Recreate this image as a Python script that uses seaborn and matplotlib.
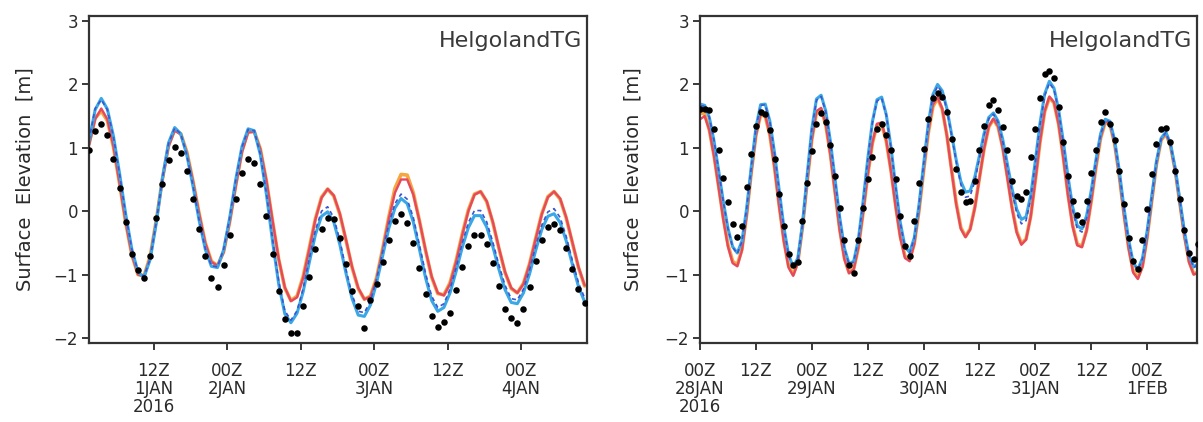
import numpy as np
import pandas as pd
import matplotlib
matplotlib.use("Agg")
import matplotlib.pyplot as plt
import seaborn as sns

# ---------------- data ----------------
station = "HelgolandTG"
ylabel = "Surface  Elevation  [m]"

# Left panel: hours after 2016-01-01 00Z, hourly samples
left_start = 1.4
left_xlim = (1.4, 82.8)
left_ticks = [12, 24, 36, 48, 60, 72]
left_ticklabels = ["12Z\n1JAN\n2016", "00Z\n2JAN", "12Z", "00Z\n3JAN", "12Z", "00Z\n4JAN"]

left_obs = [0.96, 1.27, 1.37, 1.20, 0.83, 0.37, -0.17, -0.67, -0.93, -1.05,
            -0.71, -0.10, 0.43, 0.80, 1.01, 0.92, 0.64, 0.19, -0.28, -0.70,
            -1.05, -1.19, -0.85, -0.38, 0.19, 0.60, 0.83, 0.76, 0.43, -0.08,
            -0.68, -1.26, -1.70, -1.93, -1.93, -1.50, -1.04, -0.60, -0.28, -0.10,
            -0.13, -0.43, -0.84, -1.26, -1.50, -1.85, -1.40, -1.15, -0.80, -0.45,
            -0.16, -0.05, -0.18, -0.50, -0.90, -1.30, -1.65, -1.82, -1.75, -1.60,
            -1.25, -0.88, -0.55, -0.38, -0.38, -0.52, -0.82, -1.18, -1.55, -1.69,
            -1.77, -1.55, -1.20, -0.78, -0.45, -0.25, -0.21, -0.30, -0.58, -0.92,
            -1.22, -1.45]

left_orange = [1.06, 1.47, 1.58, 1.43, 1.01, 0.43, -0.18, -0.69, -1.00, -1.02,
               -0.71, -0.14, 0.51, 1.04, 1.29, 1.22, 0.93, 0.47, -0.04, -0.50,
               -0.79, -0.86, -0.64, -0.16, 0.42, 0.95, 1.26, 1.26, 0.98, 0.47,
               -0.16, -0.76, -1.21, -1.41, -1.34, -1.03, -0.58, -0.12, 0.22, 0.35,
               0.24, -0.05, -0.46, -0.89, -1.22, -1.39, -1.34, -1.05, -0.59, -0.09,
               0.36, 0.58, 0.57, 0.29, -0.15, -0.62, -1.04, -1.30, -1.32, -1.13,
               -0.78, -0.36, 0.02, 0.27, 0.31, 0.15, -0.18, -0.59, -0.97, -1.22,
               -1.29, -1.14, -0.83, -0.43, -0.04, 0.23, 0.31, 0.19, -0.11, -0.50,
               -0.89, -1.18]

left_red = [1.04, 1.45, 1.62, 1.45, 1.02, 0.43, -0.18, -0.69, -1.00, -1.03,
            -0.72, -0.15, 0.49, 1.02, 1.27, 1.21, 0.92, 0.47, -0.04, -0.50,
            -0.80, -0.86, -0.65, -0.17, 0.40, 0.93, 1.24, 1.25, 0.98, 0.48,
            -0.15, -0.75, -1.20, -1.42, -1.36, -1.05, -0.60, -0.13, 0.21, 0.35,
            0.25, -0.04, -0.45, -0.88, -1.21, -1.39, -1.35, -1.07, -0.61, -0.12,
            0.29, 0.50, 0.50, 0.26, -0.15, -0.61, -1.03, -1.29, -1.33, -1.15,
            -0.80, -0.38, 0.00, 0.26, 0.31, 0.16, -0.17, -0.58, -0.96, -1.21,
            -1.29, -1.15, -0.84, -0.44, -0.05, 0.22, 0.31, 0.20, -0.10, -0.49,
            -0.88, -1.17]

left_cyan = [1.10, 1.60, 1.78, 1.61, 1.18, 0.59, -0.05, -0.60, -0.96, -1.04,
             -0.76, -0.18, 0.52, 1.08, 1.32, 1.22, 0.88, 0.39, -0.15, -0.60,
             -0.87, -0.89, -0.61, -0.10, 0.51, 1.02, 1.30, 1.27, 0.89, 0.26,
             -0.48, -1.15, -1.62, -1.76, -1.61, -1.27, -0.81, -0.37, -0.08, -0.01,
             -0.17, -0.53, -0.98, -1.38, -1.64, -1.66, -1.48, -1.13, -0.70, -0.27,
             0.05, 0.20, 0.12, -0.17, -0.60, -1.05, -1.41, -1.58, -1.52, -1.29,
             -0.95, -0.57, -0.26, -0.07, -0.07, -0.25, -0.56, -0.92, -1.24, -1.44,
             -1.46, -1.29, -0.99, -0.62, -0.29, -0.08, -0.04, -0.18, -0.47, -0.84,
             -1.19, -1.43]

left_blue = [1.12, 1.62, 1.76, 1.60, 1.17, 0.58, -0.06, -0.60, -0.95, -1.03,
             -0.75, -0.17, 0.52, 1.07, 1.31, 1.22, 0.88, 0.40, -0.14, -0.59,
             -0.86, -0.88, -0.60, -0.10, 0.50, 1.01, 1.29, 1.27, 0.90, 0.28,
             -0.44, -1.10, -1.57, -1.72, -1.57, -1.22, -0.75, -0.30, 0.00, 0.07,
             -0.10, -0.46, -0.92, -1.32, -1.58, -1.60, -1.42, -1.07, -0.64, -0.20,
             0.12, 0.27, 0.19, -0.10, -0.53, -0.98, -1.34, -1.52, -1.46, -1.23,
             -0.89, -0.50, -0.18, 0.01, 0.01, -0.17, -0.49, -0.85, -1.17, -1.38,
             -1.40, -1.23, -0.93, -0.55, -0.22, -0.01, 0.04, -0.10, -0.40, -0.78,
             -1.13, -1.37]

# Right panel: hours after 2016-01-28 00Z, hourly samples
right_start = 0.0
right_xlim = (0.0, 106.7)
right_ticks = [0, 12, 24, 36, 48, 60, 72, 84, 96]
right_ticklabels = ["00Z\n28JAN\n2016", "12Z", "00Z\n29JAN", "12Z", "00Z\n30JAN",
                    "12Z", "00Z\n31JAN", "12Z", "00Z\n1FEB"]

right_obs = [1.62, 1.62, 1.59, 1.30, 0.96, 0.52, 0.14, -0.21, -0.41, -0.23,
             0.38, 0.90, 1.35, 1.57, 1.54, 1.28, 0.83, 0.27, -0.23, -0.68,
             -0.85, -0.80, -0.15, 0.45, 0.95, 1.38, 1.55, 1.40, 1.05, 0.55,
             0.05, -0.45, -0.85, -0.97, -0.45, 0.05, 0.50, 0.85, 1.30, 1.38,
             1.20, 0.96, 0.51, -0.07, -0.55, -0.71, -0.15, 0.45, 0.98, 1.46,
             1.78, 1.86, 1.80, 1.57, 1.14, 0.67, 0.31, 0.14, 0.16, 0.48,
             0.96, 1.35, 1.67, 1.75, 1.59, 1.33, 0.96, 0.48, 0.24, 0.19,
             0.31, 0.85, 1.30, 1.78, 2.16, 2.21, 2.10, 1.65, 1.09, 0.56,
             0.16, -0.06, -0.17, 0.16, 0.61, 0.96, 1.41, 1.57, 1.38, 1.12,
             0.64, 0.11, -0.42, -0.79, -0.92, -0.45, 0.03, 0.59, 1.06, 1.30,
             1.31, 1.09, 0.64, 0.19, -0.29, -0.66, -0.76, -0.52]

right_orange = [1.56, 1.53, 1.28, 0.88, 0.39, -0.11, -0.53, -0.79, -0.85, -0.60,
                -0.06, 0.61, 1.20, 1.52, 1.50, 1.20, 0.69, 0.09, -0.46, -0.86,
                -1.00, -0.80, -0.25, 0.46, 1.13, 1.56, 1.61, 1.36, 0.89, 0.30,
                -0.29, -0.74, -0.97, -0.91, -0.57, -0.03, 0.57, 1.07, 1.36, 1.37,
                1.10, 0.64, 0.09, -0.40, -0.71, -0.77, -0.51, 0.00, 0.63, 1.23,
                1.65, 1.78, 1.61, 1.20, 0.66, 0.13, -0.26, -0.40, -0.28, 0.06,
                0.53, 0.99, 1.33, 1.45, 1.33, 1.00, 0.54, 0.06, -0.32, -0.51,
                -0.44, -0.08, 0.49, 1.09, 1.57, 1.79, 1.71, 1.37, 0.85, 0.27,
                -0.22, -0.52, -0.55, -0.30, 0.16, 0.69, 1.15, 1.40, 1.37, 1.07,
                0.57, -0.03, -0.56, -0.94, -1.05, -0.86, -0.41, 0.17, 0.74, 1.12,
                1.22, 1.04, 0.65, 0.14, -0.38, -0.79, -0.99, -0.96]

right_red = [1.45, 1.50, 1.28, 0.87, 0.37, -0.13, -0.56, -0.82, -0.87, -0.62,
             -0.08, 0.60, 1.19, 1.53, 1.52, 1.21, 0.68, 0.07, -0.48, -0.89,
             -1.02, -0.82, -0.26, 0.45, 1.13, 1.58, 1.63, 1.37, 0.88, 0.28,
             -0.31, -0.76, -0.98, -0.92, -0.57, -0.03, 0.57, 1.08, 1.38, 1.40,
             1.11, 0.63, 0.07, -0.42, -0.74, -0.79, -0.52, 0.00, 0.64, 1.25,
             1.68, 1.80, 1.62, 1.19, 0.64, 0.11, -0.28, -0.41, -0.29, 0.05,
             0.52, 0.99, 1.34, 1.46, 1.34, 0.99, 0.52, 0.04, -0.34, -0.53,
             -0.45, -0.09, 0.49, 1.10, 1.58, 1.81, 1.72, 1.37, 0.84, 0.25,
             -0.24, -0.54, -0.57, -0.31, 0.16, 0.70, 1.16, 1.42, 1.38, 1.07,
             0.56, -0.05, -0.58, -0.97, -1.07, -0.88, -0.42, 0.16, 0.74, 1.13,
             1.23, 1.04, 0.64, 0.12, -0.40, -0.81, -1.00, -0.97]

right_cyan = [1.69, 1.67, 1.48, 1.11, 0.64, 0.15, -0.27, -0.56, -0.66, -0.47,
              0.04, 0.70, 1.32, 1.68, 1.69, 1.42, 0.92, 0.33, -0.25, -0.68,
              -0.88, -0.74, -0.20, 0.57, 1.30, 1.77, 1.83, 1.58, 1.10, 0.50,
              -0.10, -0.58, -0.83, -0.79, -0.44, 0.15, 0.82, 1.41, 1.76, 1.80,
              1.52, 1.01, 0.39, -0.18, -0.56, -0.65, -0.42, 0.09, 0.74, 1.37,
              1.84, 2.00, 1.90, 1.62, 1.22, 0.81, 0.47, 0.30, 0.32, 0.54,
              0.88, 1.23, 1.48, 1.55, 1.42, 1.13, 0.74, 0.35, 0.03, -0.13,
              -0.09, 0.25, 0.80, 1.39, 1.85, 2.05, 1.94, 1.60, 1.10, 0.55,
              0.07, -0.23, -0.28, -0.07, 0.33, 0.81, 1.22, 1.45, 1.42, 1.13,
              0.65, 0.07, -0.44, -0.81, -0.92, -0.74, -0.31, 0.25, 0.79, 1.15,
              1.25, 1.07, 0.69, 0.19, -0.32, -0.70, -0.88, -0.83]

right_blue = [1.66, 1.66, 1.48, 1.12, 0.64, 0.15, -0.28, -0.57, -0.67, -0.48,
              0.03, 0.69, 1.31, 1.67, 1.68, 1.41, 0.91, 0.32, -0.26, -0.69,
              -0.89, -0.75, -0.21, 0.56, 1.29, 1.75, 1.81, 1.57, 1.09, 0.49,
              -0.11, -0.59, -0.84, -0.80, -0.45, 0.14, 0.80, 1.39, 1.74, 1.78,
              1.51, 1.00, 0.38, -0.19, -0.57, -0.66, -0.43, 0.08, 0.73, 1.35,
              1.82, 1.97, 1.88, 1.60, 1.20, 0.78, 0.42, 0.22, 0.24, 0.47,
              0.84, 1.20, 1.46, 1.53, 1.40, 1.10, 0.70, 0.30, -0.03, -0.20,
              -0.15, 0.20, 0.76, 1.36, 1.82, 2.02, 1.92, 1.58, 1.07, 0.51,
              0.02, -0.28, -0.33, -0.11, 0.30, 0.79, 1.20, 1.44, 1.41, 1.12,
              0.64, 0.06, -0.45, -0.82, -0.93, -0.75, -0.32, 0.24, 0.78, 1.14,
              1.24, 1.06, 0.68, 0.18, -0.33, -0.71, -0.89, -0.84]

yticks = [-2, -1, 0, 1, 2, 3]

# ---------------- style ----------------
sns.set_style("ticks")
plt.rcParams["font.family"] = ["DejaVu Sans"]
plt.rcParams["axes.unicode_minus"] = True

series_order = ["orange", "red", "cyan", "blue"]
palette = {"orange": "#f5a640", "red": "#e6495f", "cyan": "#3aa8e4", "blue": "#3d55d0"}
dashes = {"orange": "", "red": "", "cyan": "", "blue": (2.5, 2.0)}
widths = {"orange": 2.6, "red": 1.7, "cyan": 2.2, "blue": 1.2}
text_col = "#2a2a2a"

fig = plt.figure(figsize=(12.03, 4.22), dpi=100)
axL = fig.add_axes([0.0740, 0.1872, 0.4140, 0.7749])
axR = fig.add_axes([0.5819, 0.1872, 0.4131, 0.7749])


def draw_panel(ax, start, obs, orange, red, cyan, blue, xlim, ticks, ticklabels, labx):
    frames = []
    for name, vals in zip(series_order, [orange, red, cyan, blue]):
        frames.append(pd.DataFrame({"t": start + np.arange(len(vals)),
                                    "v": vals, "series": name}))
    df = pd.concat(frames, ignore_index=True)
    for name in series_order:
        sub = df[df["series"] == name]
        sns.lineplot(data=sub, x="t", y="v", color=palette[name],
                     linewidth=widths[name], dashes=False,
                     estimator=None, sort=False, legend=False, ax=ax)
        line = ax.get_lines()[-1]
        if dashes[name]:
            line.set_dashes(dashes[name])
    dfo = pd.DataFrame({"t": start + np.arange(len(obs)), "v": obs})
    sns.scatterplot(data=dfo, x="t", y="v", color="black", s=22,
                    linewidth=0, legend=False, ax=ax, zorder=6)

    ax.set_xlim(*xlim)
    ax.set_ylim(-2.08, 3.08)
    ax.set_yticks(yticks)
    ax.set_yticklabels([f"{v}".replace("-", "\u2212") for v in yticks])
    ax.set_xticks(ticks)
    ax.set_xticklabels(ticklabels, linespacing=1.0)
    ax.tick_params(axis="both", direction="out", length=5, width=1.3,
                   labelsize=12, colors=text_col)
    ax.tick_params(axis="x", pad=9)
    ax.tick_params(axis="y", pad=3)
    for sp in ax.spines.values():
        sp.set_visible(True)
        sp.set_linewidth(1.6)
        sp.set_color("#333333")
    ax.set_xlabel("")
    ax.set_ylabel(ylabel, fontsize=14, color=text_col)
    ax.yaxis.set_label_coords(labx, 0.5)
    ax.text(0.99, 0.925, station, transform=ax.transAxes, ha="right",
            va="center", fontsize=16, color="#3a3a3a")


draw_panel(axL, left_start, left_obs, left_orange, left_red, left_cyan, left_blue,
           left_xlim, left_ticks, left_ticklabels, -0.11)
draw_panel(axR, right_start, right_obs, right_orange, right_red, right_cyan, right_blue,
           right_xlim, right_ticks, right_ticklabels, -0.115)

fig.savefig("out.png", dpi=100)
